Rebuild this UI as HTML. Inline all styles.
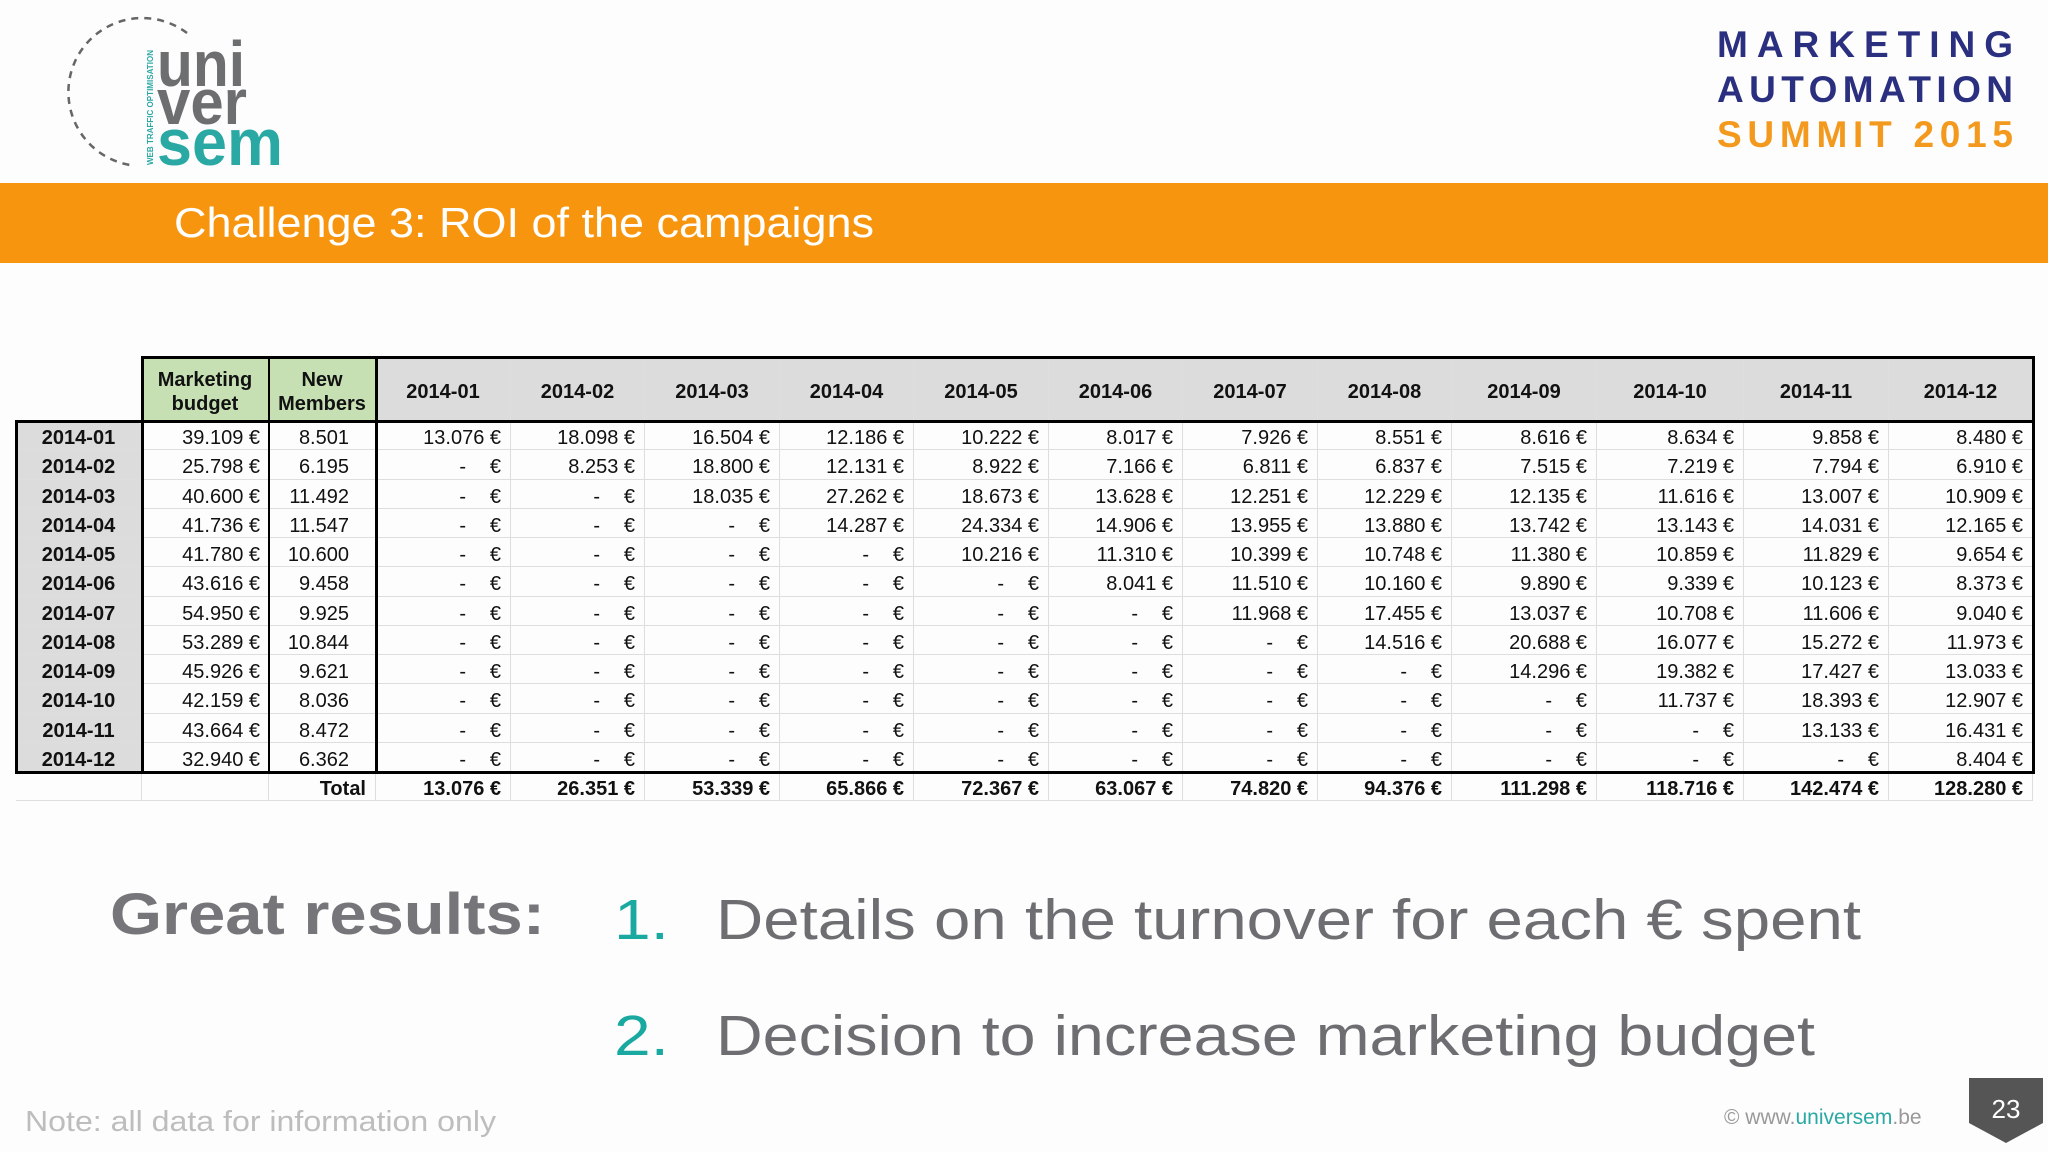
<!DOCTYPE html>
<html><head><meta charset="utf-8">
<style>
html,body{margin:0;padding:0;}
body{width:2048px;height:1152px;position:relative;overflow:hidden;background:#fdfdfd;font-family:"Liberation Sans",sans-serif;}
.abs{position:absolute;}
.cell{position:absolute;box-sizing:border-box;font-size:20px;color:#111;display:flex;align-items:center;border-right:1px solid #dedede;border-bottom:1px solid #dedede;padding-top:6px;}
.hv{position:absolute;background:#000;}
</style></head>
<body>
<svg class="abs" style="left:0;top:0" width="2048" height="1152">
  <g>
    <path d="M187,33 A74,74 0 1 0 130,165" fill="none" stroke="#666" stroke-width="2.5" stroke-dasharray="7,6"/>
    <text x="157" y="86" font-size="64" font-weight="bold" fill="#6d6e70" textLength="88" lengthAdjust="spacingAndGlyphs">uni</text>
    <text x="157" y="124" font-size="64" font-weight="bold" fill="#6d6e70" textLength="90" lengthAdjust="spacingAndGlyphs">ver</text>
    <text x="157" y="165" font-size="66" font-weight="bold" fill="#2aa9a4" textLength="126" lengthAdjust="spacingAndGlyphs">sem</text>
    <text transform="translate(153,165) rotate(-90)" font-size="8" font-weight="bold" fill="#2aa9a4" textLength="115" lengthAdjust="spacing">WEB TRAFFIC OPTIMISATION</text>
  </g>
  <g>
    <text x="1717" y="57" font-size="37" font-weight="bold" fill="#2b2f80" textLength="296" lengthAdjust="spacing">MARKETING</text>
    <text x="1717" y="102" font-size="37" font-weight="bold" fill="#2b2f80" textLength="296" lengthAdjust="spacing">AUTOMATION</text>
    <text x="1717" y="147" font-size="37" font-weight="bold" fill="#f39a1e" textLength="296" lengthAdjust="spacing">SUMMIT 2015</text>
  </g>
  <rect x="0" y="183" width="2048" height="80" fill="#f7960e"/>
  <text x="174" y="237" font-size="42" fill="#fff" textLength="700" lengthAdjust="spacingAndGlyphs">Challenge 3: ROI of the campaigns</text>
  <text x="110" y="934" font-size="58" font-weight="bold" fill="#76767a" textLength="435" lengthAdjust="spacingAndGlyphs">Great results:</text>
  <text x="614" y="939" font-size="57" fill="#1aa9a1" textLength="55" lengthAdjust="spacingAndGlyphs">1.</text>
  <text x="716" y="939" font-size="57" fill="#6e6e72" textLength="1145" lengthAdjust="spacingAndGlyphs">Details on the turnover for each € spent</text>
  <text x="614" y="1055" font-size="57" fill="#1aa9a1" textLength="55" lengthAdjust="spacingAndGlyphs">2.</text>
  <text x="716" y="1055" font-size="57" fill="#6e6e72" textLength="1099" lengthAdjust="spacingAndGlyphs">Decision to increase marketing budget</text>
  <text x="25" y="1131" font-size="29" fill="#bdbdbd" textLength="471" lengthAdjust="spacingAndGlyphs">Note: all data for information only</text>
  <text x="1724" y="1124" font-size="21" fill="#999">© www.<tspan fill="#2aa9a4">universem</tspan>.be</text>
  <path d="M1969,1078 H2043 V1123 L2006,1143 L1969,1123 Z" fill="#555"/>
  <text x="2006" y="1118" font-size="26" fill="#fff" text-anchor="middle">23</text>
</svg>
<div id="tbl"></div>
<script>
const months = ["2014-01","2014-02","2014-03","2014-04","2014-05","2014-06","2014-07","2014-08","2014-09","2014-10","2014-11","2014-12"];
const budgets = ["39.109","25.798","40.600","41.736","41.780","43.616","54.950","53.289","45.926","42.159","43.664","32.940"];
const members = ["8.501","6.195","11.492","11.547","10.600","9.458","9.925","10.844","9.621","8.036","8.472","6.362"];
const r01 = ["13.076","18.098","16.504","12.186","10.222","8.017","7.926","8.551","8.616","8.634","9.858","8.480"];
const r02 = [null,"8.253","18.800","12.131","8.922","7.166","6.811","6.837","7.515","7.219","7.794","6.910"];
const r03 = [null,null,"18.035","27.262","18.673","13.628","12.251","12.229","12.135","11.616","13.007","10.909"];
const r04 = [null,null,null,"14.287","24.334","14.906","13.955","13.880","13.742","13.143","14.031","12.165"];
const r05 = [null,null,null,null,"10.216","11.310","10.399","10.748","11.380","10.859","11.829","9.654"];
const r06 = [null,null,null,null,null,"8.041","11.510","10.160","9.890","9.339","10.123","8.373"];
const r07 = [null,null,null,null,null,null,"11.968","17.455","13.037","10.708","11.606","9.040"];
const r08 = [null,null,null,null,null,null,null,"14.516","20.688","16.077","15.272","11.973"];
const r09 = [null,null,null,null,null,null,null,null,"14.296","19.382","17.427","13.033"];
const r10 = [null,null,null,null,null,null,null,null,null,"11.737","18.393","12.907"];
const r11 = [null,null,null,null,null,null,null,null,null,null,"13.133","16.431"];
const r12 = [null,null,null,null,null,null,null,null,null,null,null,"8.404"];
const totals = ["13.076","26.351","53.339","65.866","72.367","63.067","74.820","94.376","111.298","118.716","142.474","128.280"];
const rows = [r01,r02,r03,r04,r05,r06,r07,r08,r09,r10,r11,r12];

const tbl = document.getElementById('tbl');
const colX = [16,142,269,376,511,645,780,914,1049,1183,1318,1452,1597,1744,1889,2033];
const headTop = 358, headBot = 421, rowH = (772-421)/12, totBot = 801;
function cell(x1,y1,x2,y2,html,opts){
  const d = document.createElement('div');
  d.className='cell';
  
  
  d.style.left=x1+'px';d.style.top=y1+'px';d.style.width=(x2-x1)+'px';d.style.height=(y2-y1)+'px';
  if(opts.bg) d.style.background=opts.bg;
  if(opts.bold) d.style.fontWeight='bold';
  d.style.justifyContent=opts.align||'flex-end';
  if(opts.pr!==undefined) d.style.paddingRight=opts.pr+'px';
  if(opts.center) d.style.textAlign='center';
  d.style.lineHeight='1.2';
  d.innerHTML=html;
  tbl.appendChild(d);
  return d;
}
function euro(v){ return v===null ? '<span style="position:absolute;right:44px">-</span><span>€</span>' : v+' €'; }
cell(colX[0],headTop,colX[1],headBot,'',{name:'corner-cell'});
cell(colX[1],headTop,colX[2],headBot,'Marketing<br>budget',{name:'budget-header',bg:'#c6e0b4',bold:true,align:'center',center:true});
cell(colX[2],headTop,colX[3],headBot,'New<br>Members',{name:'members-header',bg:'#c6e0b4',bold:true,align:'center',center:true});
months.forEach((m,j)=>{
  cell(colX[3+j],headTop,colX[4+j],headBot,m,{name:'month-header-'+m,bg:'#dcdcdc',bold:true,align:'center'});
});
rows.forEach((r,i)=>{
  const y1=headBot+i*rowH, y2=y1+rowH;
  cell(colX[0],y1,colX[1],y2,months[i],{name:'row-label-'+months[i],bg:'#dcdcdc',bold:true,align:'center'});
  cell(colX[1],y1,colX[2],y2,budgets[i]+' €',{name:'budget-'+months[i],pr:8});
  cell(colX[2],y1,colX[3],y2,members[i],{name:'members-'+months[i],pr:26});
  r.forEach((v,j)=>{
    cell(colX[3+j],y1,colX[4+j],y2,euro(v),{name:'value-'+months[i]+'-'+months[j],pr:9});
  });
});
cell(colX[0],772,colX[1],totBot,'',{name:'total-blank-1'});
cell(colX[1],772,colX[2],totBot,'',{name:'total-blank-2'});
cell(colX[2],772,colX[3],totBot,'Total',{name:'total-label',bold:true,pr:9});
totals.forEach((t,j)=>{
  cell(colX[3+j],772,colX[4+j],totBot,t+' €',{name:'total-'+months[j],bold:true,pr:9});
});
function hv(x,y,w,h,n){const d=document.createElement('div');d.className='hv';d.style.left=x+'px';d.style.top=y+'px';d.style.width=w+'px';d.style.height=h+'px';


tbl.appendChild(d);}
hv(141,356,1894,3,'border-header-top');
hv(15,420,2020,3,'border-header-bottom');
hv(15,771,2020,3,'border-body-bottom');
hv(15,420,3,354,'border-left');
hv(2032,356,3,418,'border-right');
hv(141,356,3,418,'border-label-col');
hv(268,356,2,418,'border-budget-col');
hv(375,356,3,418,'border-members-col');
</script>
</body></html>
